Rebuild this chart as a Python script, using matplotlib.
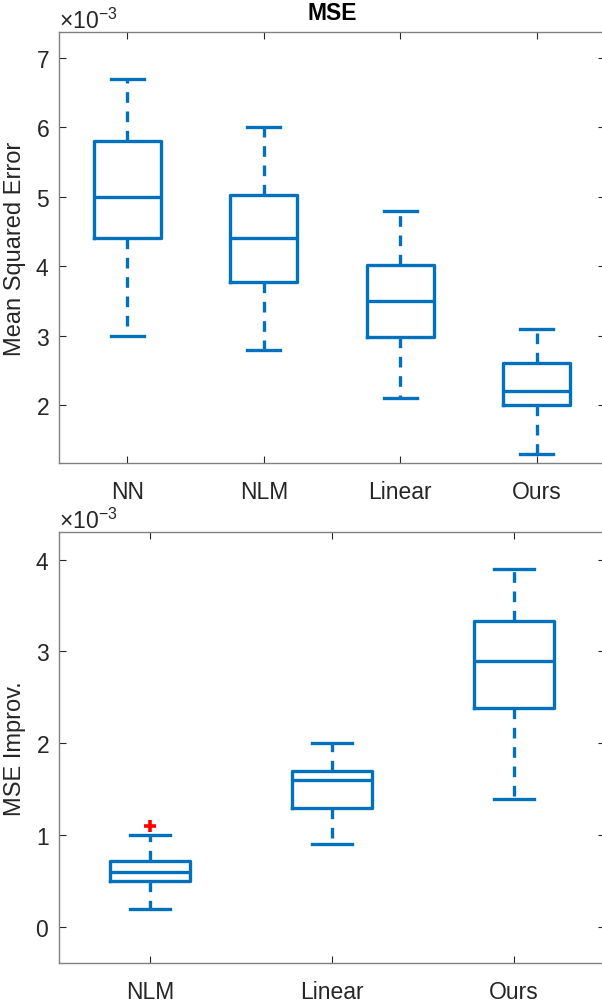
import matplotlib
matplotlib.use("Agg")
import matplotlib.pyplot as plt
from matplotlib.ticker import ScalarFormatter

plt.rcParams['font.family'] = ['Liberation Sans', 'DejaVu Sans']
plt.rcParams['mathtext.fontset'] = 'custom'
plt.rcParams['mathtext.rm'] = 'Liberation Sans'
plt.rcParams['mathtext.it'] = 'Liberation Sans:italic'
plt.rcParams['mathtext.bf'] = 'Liberation Sans:bold'
plt.rcParams['axes.unicode_minus'] = False

# ---- data (units: squared error) ----
top_labels = ["NN", "NLM", "Linear", "Ours"]
top_whishi = [6.7e-3, 6.0e-3, 4.8e-3, 3.1e-3]
top_q3 = [5.8e-3, 5.02e-3, 4.02e-3, 2.6e-3]
top_med = [5.0e-3, 4.4e-3, 3.5e-3, 2.2e-3]
top_q1 = [4.4e-3, 3.78e-3, 2.98e-3, 2.0e-3]
top_whislo = [3.0e-3, 2.8e-3, 2.1e-3, 1.3e-3]
top_fliers = [[], [], [], []]

bot_labels = ["NLM", "Linear", "Ours"]
bot_whishi = [1.0e-3, 2.0e-3, 3.9e-3]
bot_q3 = [0.72e-3, 1.7e-3, 3.33e-3]
bot_med = [0.6e-3, 1.6e-3, 2.9e-3]
bot_q1 = [0.5e-3, 1.3e-3, 2.38e-3]
bot_whislo = [0.2e-3, 0.9e-3, 1.4e-3]
bot_fliers = [[1.1e-3], [], []]

BLUE = '#0072BD'
AX_COLOR = '#262626'
LW = 2.4
FS = 16.5


def make_stats(labels, whishi, q3, med, q1, whislo, fliers):
    stats = []
    for i in range(len(labels)):
        stats.append(dict(label=labels[i], whishi=whishi[i], q3=q3[i], med=med[i],
                          q1=q1[i], whislo=whislo[i], fliers=fliers[i]))
    return stats


def draw(ax, stats, width, ylim, ylabel, yticks):
    n = len(stats)
    ax.bxp(stats, positions=range(1, n + 1), widths=width, capwidths=width * 0.5,
           showfliers=True,
           boxprops=dict(color=BLUE, linewidth=LW),
           medianprops=dict(color=BLUE, linewidth=LW),
           whiskerprops=dict(color=BLUE, linewidth=LW, linestyle=(0, (3.2, 2.6))),
           capprops=dict(color=BLUE, linewidth=LW),
           flierprops=dict(marker='+', markeredgecolor='red', markersize=9,
                           markeredgewidth=2.6))
    ax.set_xlim(0.5, n + 0.5)
    ax.set_ylim(*ylim)
    ax.set_yticks(yticks)
    fmt = ScalarFormatter(useMathText=True)
    ax.yaxis.set_major_formatter(fmt)
    ax.ticklabel_format(axis='y', style='sci', scilimits=(-3, -3), useMathText=True)
    ax.yaxis.get_offset_text().set_fontsize(FS)
    ax.yaxis.get_offset_text().set_color(AX_COLOR)
    ax.set_ylabel(ylabel, fontsize=FS + 0.5, color=AX_COLOR, labelpad=7)
    ax.tick_params(axis='both', direction='in', top=True, right=True, length=5,
                   width=0.8, colors=AX_COLOR, labelsize=FS, pad=12)
    ax.tick_params(axis='y', pad=7)
    for s in ax.spines.values():
        s.set_color('#808080')
        s.set_linewidth(1.0)


fig = plt.figure(figsize=(6.02, 10.04), dpi=100)
ax1 = fig.add_axes([59 / 602, 1 - 464 / 1004, 546 / 602, 431 / 1004])
ax2 = fig.add_axes([59 / 602, 1 - 964 / 1004, 546 / 602, 431 / 1004])

draw(ax1, make_stats(top_labels, top_whishi, top_q3, top_med, top_q1, top_whislo, top_fliers),
     0.49, (1.165e-3, 7.375e-3), 'Mean Squared Error', [2e-3, 3e-3, 4e-3, 5e-3, 6e-3, 7e-3])
ax1.set_title('MSE', fontsize=FS, fontweight='bold', pad=9)

draw(ax2, make_stats(bot_labels, bot_whishi, bot_q3, bot_med, bot_q1, bot_whislo, bot_fliers),
     0.44, (-0.39e-3, 4.30e-3), 'MSE Improv.', [0, 1e-3, 2e-3, 3e-3, 4e-3])

fig.savefig('out.png', dpi=100)
